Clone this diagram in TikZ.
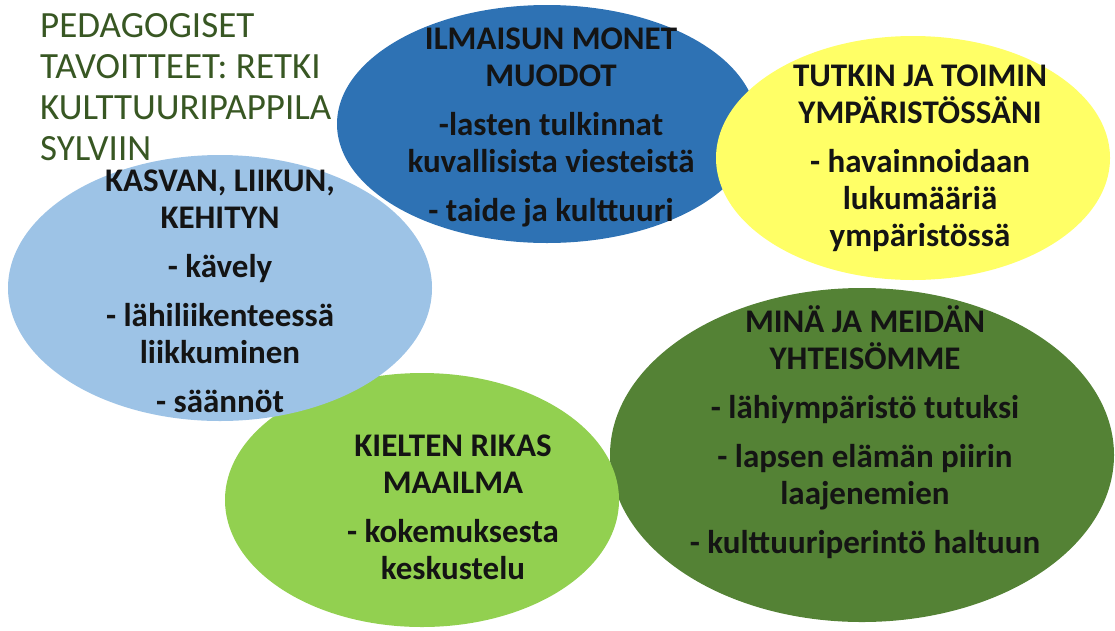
\documentclass[tikz,border=0pt]{standalone}
\usepackage{fontspec}
\setmainfont{Carlito}
\usetikzlibrary{shapes.geometric,positioning,calc}
\definecolor{cTitle}{HTML}{385723}
\definecolor{cText}{HTML}{141414}
\definecolor{cDkBlue}{HTML}{2E72B4}
\definecolor{cLtBlue}{HTML}{9DC3E6}
\definecolor{cYellow}{HTML}{FFFF66}
\definecolor{cLtGreen}{HTML}{92D050}
\definecolor{cDkGreen}{HTML}{548235}
\tikzset{
  blob/.style={ellipse,draw=none,inner sep=0pt},
  goal/.style={font=\bfseries\fontsize{33}{37}\selectfont,align=center,text=cText,inner sep=0pt},
  heading/.style={font=\fontsize{37}{41}\selectfont,align=left,text=cTitle,inner sep=0pt},
}

\begin{document}
\begin{tikzpicture}[x=1pt,y=1pt]
\useasboundingbox (0,0) rectangle (1115,-630);

% ============ BLOBS (back to front) ============
\node[blob, fill=cDkGreen, minimum width=504pt, minimum height=334pt] (yhteiso) at (862,-455) {};
\node[blob, fill=cLtGreen, minimum width=394pt, minimum height=254pt] (kielet) at (422,-500) {};
\node[blob, fill=cDkBlue, minimum width=420pt, minimum height=238pt] (ilmaisu) at (547,-124) {};
\node[blob, fill=cYellow, minimum width=394pt, minimum height=244pt] (tutkin) at (913,-158) {};
\node[blob, fill=cLtBlue, minimum width=424pt, minimum height=266pt] (kasvan) at (220,-288) {};

% ============ TEXTS ============
\node[goal] (ilmaisuTxt) at ($(ilmaisu.center)+(4,-3)$)
   {ILMAISUN MONET\\ MUODOT\\[12pt] -lasten tulkinnat\\ kuvallisista viesteistä\\[12pt] - taide ja kulttuuri};
\node[goal] (tutkinTxt) at ($(tutkin.center)+(7,0)$)
   {TUTKIN JA TOIMIN\\ YMPÄRISTÖSSÄNI\\[12pt] - havainnoidaan\\ lukumääriä\\ ympäristössä};
\node[goal] (kasvanTxt) at ($(kasvan.center)+(0,-3)$)
   {KASVAN, LIIKUN,\\ KEHITYN\\[12pt] - kävely\\[12pt] - lähiliikenteessä\\ liikkuminen\\[12pt] - säännöt};
\node[goal] (kieletTxt) at ($(kielet.center)+(31,-7)$)
   {KIELTEN RIKAS\\ MAAILMA\\[12pt] - kokemuksesta\\ keskustelu};
\node[goal] (yhteisoTxt) at ($(yhteiso.center)+(3,23)$)
   {MINÄ JA MEIDÄN\\ YHTEISÖMME\\[12pt] - lähiympäristö tutuksi\\[12pt] - lapsen elämän piirin\\ laajenemien\\[12pt] - kulttuuriperintö haltuun};

% ---------- title ----------
\node[heading, anchor=north west] (title) at (40,-13)
   {PEDAGOGISET\\ TAVOITTEET: RETKI\\ KULTTUURIPAPPILA\\ SYLVIIN};

\end{tikzpicture}
\end{document}
